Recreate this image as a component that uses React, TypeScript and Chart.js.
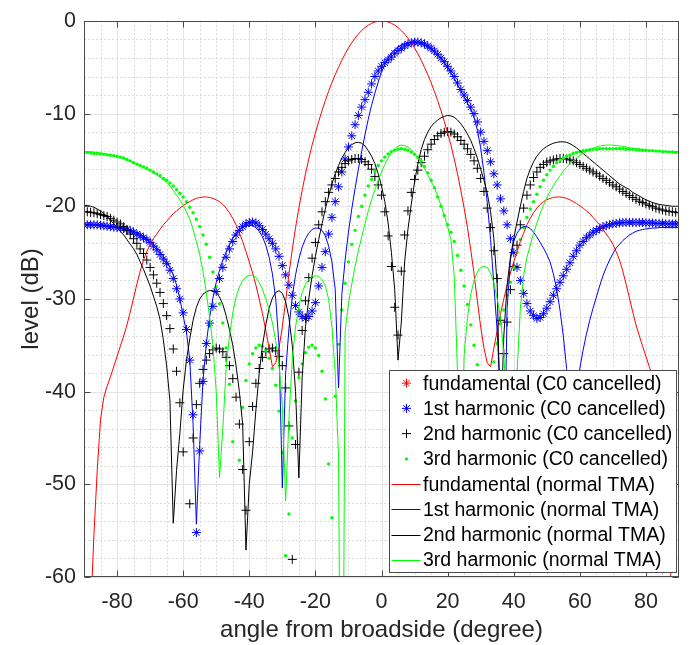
import React, { useEffect, useRef } from 'react';
import { Chart, registerables } from 'chart.js';

Chart.register(...registerables);

const FONT = '"Liberation Sans", Arial, Helvetica, sans-serif';
const TEXT = '#262626';

// angle samples (degree)
const ANGLES = [
  -90, -89, -88, -87, -86, -85, -84, -83, -82, -81,
  -80, -79, -78, -77, -76, -75, -74, -73, -72, -71,
  -70, -69, -68, -67, -66, -65, -64, -63, -62, -61,
  -60, -59, -58, -57, -56, -55, -54, -53, -52, -51,
  -50, -49, -48, -47, -46, -45, -44, -43, -42, -41,
  -40, -39, -38, -37, -36, -35, -34, -33, -32, -31,
  -30, -29, -28, -27, -26, -25, -24, -23, -22, -21,
  -20, -19, -18, -17, -16, -15, -14, -13, -12, -11,
  -10, -9, -8, -7, -6, -5, -4, -3, -2, -1,
  0, 1, 2, 3, 4, 5, 6, 7, 8, 9,
  10, 11, 12, 13, 14, 15, 16, 17, 18, 19,
  20, 21, 22, 23, 24, 25, 26, 27, 28, 29,
  30, 31, 32, 33, 34, 35, 36, 37, 38, 39,
  40, 41, 42, 43, 44, 45, 46, 47, 48, 49,
  50, 51, 52, 53, 54, 55, 56, 57, 58, 59,
  60, 61, 62, 63, 64, 65, 66, 67, 68, 69,
  70, 71, 72, 73, 74, 75, 76, 77, 78, 79,
  80, 81, 82, 83, 84, 85, 86, 87, 88, 89,
  90,
];

// fundamental (C0 cancelled): entirely below the -60 dB floor, nothing visible
const FUND_C0: number[] = [];

// 1st harmonic (C0 cancelled)
const H1_C0 = [
  -22.0, -22.0, -22.0, -22.0, -22.0, -22.05, -22.1, -22.15, -22.2, -22.25,
  -22.3, -22.35, -22.4, -22.5, -22.6, -22.8, -23.0, -23.2, -23.4, -23.6,
  -23.9, -24.3, -24.7, -25.2, -25.7, -26.2, -26.9, -27.8, -28.9, -30.0,
  -31.5, -33.3, -36.6, -42.5, -55.2, -46.4, -38.9, -34.8, -32.6, -30.8,
  -29.2, -27.8, -26.6, -25.5, -24.6, -23.8, -23.1, -22.6, -22.2, -21.9,
  -21.75, -21.7, -21.8, -22.1, -22.5, -23.0, -23.5, -24.0, -24.6, -25.4,
  -26.4, -27.4, -28.5, -29.6, -30.7, -31.4, -31.9, -32.1, -31.9, -31.3,
  -30.4, -28.6, -26.6, -24.9, -23.0, -21.2, -19.5, -17.9, -16.3, -14.9,
  -13.6, -12.4, -11.2, -10.2, -9.3, -8.5, -7.7, -6.8, -6.0, -5.4,
  -4.9, -4.5, -4.2, -3.9, -3.5, -3.2, -2.95, -2.7, -2.5, -2.35,
  -2.3, -2.3, -2.35, -2.5, -2.7, -2.95, -3.25, -3.6, -4.0, -4.4,
  -4.9, -5.4, -6.0, -6.7, -7.4, -8.0, -8.6, -9.3, -10.0, -10.9,
  -12.0, -13.0, -14.0, -15.2, -16.5, -17.7, -19.2, -20.5, -22.0, -23.5,
  -25.0, -26.6, -28.0, -29.4, -30.5, -31.3, -31.8, -32.1, -32.0, -31.6,
  -31.0, -30.3, -29.6, -28.9, -28.2, -27.5, -26.8, -26.1, -25.4, -24.8,
  -24.2, -23.8, -23.4, -23.1, -22.8, -22.6, -22.4, -22.2, -22.1, -22.0,
  -21.9, -21.85, -21.8, -21.75, -21.75, -21.75, -21.75, -21.75, -21.75, -21.75,
  -21.8, -21.8, -21.8, -21.85, -21.85, -21.85, -21.9, -21.9, -21.9, -21.9,
  -21.9,
];

// 2nd harmonic (C0 cancelled)
const H2_C0 = [
  -20.6, -20.6, -20.65, -20.7, -20.8, -20.9, -21.0, -21.1, -21.3, -21.5,
  -21.7, -21.9, -22.2, -22.6, -23.0, -23.5, -24.0, -24.6, -25.1, -25.8,
  -26.6, -27.4, -28.3, -29.3, -30.5, -31.8, -33.2, -35.4, -37.8, -41.2,
  -46.5, -70.0, -52.1, -45.0, -41.4, -39.1, -37.6, -36.6, -35.9, -35.5,
  -35.3, -35.4, -35.7, -36.3, -37.2, -38.6, -40.6, -43.5, -48.4, -52.8,
  -45.4, -41.6, -39.1, -37.5, -36.3, -35.7, -35.4, -35.3, -35.6, -36.2,
  -37.2, -39.6, -43.7, -58.1, -45.7, -37.9, -33.4, -30.2, -27.7, -25.6,
  -23.9, -22.0, -20.6, -19.5, -18.5, -17.7, -17.0, -16.3, -15.8, -15.4,
  -15.1, -14.95, -14.85, -14.85, -14.95, -15.2, -15.5, -16.0, -16.8, -17.7,
  -18.8, -20.6, -23.2, -26.5, -30.9, -33.9, -27.0, -23.1, -20.5, -18.5,
  -17.1, -16.1, -15.3, -14.6, -13.9, -13.3, -12.8, -12.4, -12.15, -12.0,
  -11.95, -12.0, -12.2, -12.5, -12.9, -13.3, -13.8, -14.4, -15.1, -15.9,
  -17.0, -18.4, -20.2, -22.3, -24.8, -27.8, -32.3, -35.9, -32.5, -29.0,
  -26.5, -24.2, -22.0, -20.2, -18.8, -17.7, -16.9, -16.3, -15.8, -15.5,
  -15.25, -15.1, -15.0, -14.9, -14.85, -14.85, -14.9, -15.0, -15.1, -15.3,
  -15.5, -15.7, -15.9, -16.1, -16.3, -16.5, -16.75, -17.0, -17.2, -17.45,
  -17.7, -17.9, -18.15, -18.4, -18.6, -18.85, -19.05, -19.25, -19.45, -19.6,
  -19.75, -19.9, -20.05, -20.2, -20.3, -20.4, -20.5, -20.55, -20.6, -20.65,
  -20.7,
];

// 3rd harmonic (C0 cancelled)
const H3_C0 = [
  -14.2, -14.2, -14.25, -14.3, -14.3, -14.35, -14.4, -14.45, -14.5, -14.55,
  -14.6, -14.7, -14.8, -14.95, -15.1, -15.3, -15.45, -15.6, -15.75, -15.9,
  -16.1, -16.3, -16.5, -16.7, -17.0, -17.2, -17.5, -17.8, -18.2, -18.6,
  -19.0, -19.5, -20.1, -20.7, -21.4, -22.2, -23.1, -24.1, -25.5, -27.1,
  -28.7, -30.5, -32.6, -35.3, -39.2, -45.4, -70.0, -47.4, -41.7, -38.8,
  -37.0, -35.9, -35.3, -35.0, -35.1, -35.6, -36.4, -37.5, -39.3, -42.1,
  -46.6, -57.7, -53.2, -45.0, -41.0, -38.5, -37.0, -35.8, -35.2, -35.0,
  -35.3, -36.1, -37.8, -40.8, -47.8, -53.6, -40.5, -34.9, -31.2, -28.3,
  -26.0, -24.1, -22.6, -21.1, -20.0, -18.8, -17.8, -17.1, -16.2, -15.6,
  -15.1, -14.7, -14.35, -14.1, -13.95, -13.85, -13.8, -13.85, -13.95, -14.15,
  -14.4, -14.7, -15.1, -15.7, -16.4, -17.2, -18.0, -19.0, -20.0, -21.0,
  -22.0, -22.8, -23.8, -25.3, -26.9, -28.6, -30.6, -32.8, -35.0, -37.1,
  -39.5, -43.0, -42.0, -39.0, -36.8, -34.8, -32.7, -31.2, -29.6, -28.2,
  -26.6, -25.0, -23.6, -22.3, -21.2, -20.3, -19.5, -18.7, -17.9, -17.2,
  -16.6, -16.1, -15.7, -15.3, -15.0, -14.8, -14.6, -14.45, -14.3, -14.2,
  -14.1, -14.0, -13.95, -13.9, -13.85, -13.85, -13.8, -13.8, -13.8, -13.8,
  -13.8, -13.8, -13.8, -13.8, -13.85, -13.85, -13.85, -13.9, -13.9, -13.95,
  -13.95, -14.0, -14.0, -14.05, -14.05, -14.1, -14.1, -14.15, -14.15, -14.2,
  -14.2,
];

// fundamental (normal TMA)
const FUND_TMA = [
  -90.0, -75.0, -64.0, -55.5, -48.5, -43.0, -40.6, -39.4, -38.4, -37.3,
  -36.2, -35.1, -34.0, -32.8, -31.4, -29.9, -28.4, -27.0, -25.8, -24.9,
  -24.1, -23.5, -23.0, -22.5, -22.0, -21.6, -21.2, -20.8, -20.5, -20.2,
  -19.95, -19.7, -19.5, -19.3, -19.15, -19.05, -19.0, -19.0, -19.05, -19.15,
  -19.3, -19.5, -19.8, -20.2, -20.7, -21.3, -22.0, -22.9, -23.8, -24.9,
  -26.0, -27.2, -28.5, -30.0, -31.6, -33.4, -35.3, -37.3, -36.9, -35.3,
  -33.0, -30.2, -27.3, -24.7, -22.3, -20.2, -18.3, -16.5, -14.9, -13.4,
  -12.1, -10.85, -9.7, -8.6, -7.6, -6.65, -5.8, -5.0, -4.25, -3.55,
  -2.92, -2.36, -1.86, -1.42, -1.04, -0.72, -0.46, -0.26, -0.12, -0.03,
  0.0, -0.03, -0.12, -0.26, -0.46, -0.72, -1.04, -1.42, -1.86, -2.36,
  -2.92, -3.55, -4.25, -5.0, -5.8, -6.65, -7.6, -8.6, -9.7, -10.85,
  -12.1, -13.4, -14.9, -16.5, -18.3, -20.2, -22.3, -24.7, -27.3, -30.2,
  -33.0, -35.3, -36.9, -37.3, -35.3, -33.4, -31.6, -30.0, -28.5, -27.2,
  -26.0, -24.9, -23.8, -22.9, -22.0, -21.3, -20.7, -20.2, -19.8, -19.5,
  -19.3, -19.15, -19.05, -19.0, -19.0, -19.05, -19.15, -19.3, -19.5, -19.7,
  -19.95, -20.2, -20.5, -20.8, -21.2, -21.6, -22.0, -22.5, -23.0, -23.5,
  -24.1, -24.9, -25.8, -27.0, -28.4, -29.9, -31.4, -32.8, -34.0, -35.1,
  -36.2, -37.3, -38.4, -39.4, -40.6, -43.0, -48.5, -55.5, -64.0, -75.0,
  -90.0,
];

// 1st harmonic (normal TMA)
const H1_TMA = [
  -22.0, -22.0, -22.0, -22.05, -22.05, -22.1, -22.1, -22.15, -22.2, -22.25,
  -22.3, -22.35, -22.4, -22.5, -22.6, -22.7, -22.85, -23.0, -23.2, -23.5,
  -23.8, -24.1, -24.5, -24.9, -25.4, -25.9, -26.6, -27.4, -28.5, -30.0,
  -31.8, -33.6, -36.6, -43.5, -54.3, -45.7, -38.8, -34.8, -32.0, -29.9,
  -28.2, -26.9, -25.8, -24.9, -24.1, -23.4, -22.9, -22.5, -22.25, -22.1,
  -22.05, -22.1, -22.3, -22.7, -23.3, -24.2, -25.5, -27.3, -30.0, -35.0,
  -50.4, -38.0, -33.2, -29.8, -27.4, -25.7, -24.4, -23.5, -22.9, -22.5,
  -22.35, -22.35, -22.6, -23.2, -24.3, -26.0, -29.0, -39.6, -29.5, -25.8,
  -22.8, -20.3, -18.1, -16.0, -14.1, -12.3, -10.6, -9.1, -7.8, -6.6,
  -5.5, -4.7, -4.0, -3.5, -3.1, -2.8, -2.6, -2.45, -2.35, -2.3,
  -2.3, -2.35, -2.45, -2.6, -2.8, -3.05, -3.35, -3.7, -4.1, -4.55,
  -5.05, -5.6, -6.2, -6.85, -7.5, -8.2, -8.9, -9.5, -10.4, -11.8,
  -13.7, -16.4, -19.6, -23.6, -28.5, -33.5, -40.5, -52.0, -31.0, -25.8,
  -23.8, -22.9, -22.4, -22.2, -22.2, -22.4, -22.8, -23.3, -23.9, -24.5,
  -25.2, -26.0, -27.3, -29.0, -31.2, -34.0, -37.5, -43.0, -55.0, -43.0,
  -37.5, -35.5, -33.8, -32.3, -31.0, -29.8, -28.6, -27.5, -26.6, -25.8,
  -25.1, -24.5, -24.1, -23.7, -23.4, -23.1, -22.9, -22.7, -22.6, -22.5,
  -22.45, -22.4, -22.35, -22.35, -22.3, -22.3, -22.3, -22.3, -22.3, -22.3,
  -22.3,
];

// 2nd harmonic (normal TMA)
const H2_TMA = [
  -19.9, -19.9, -20.0, -20.1, -20.3, -20.5, -20.8, -21.1, -21.5, -21.9,
  -22.3, -22.7, -23.1, -23.6, -24.1, -24.6, -25.2, -26.0, -26.8, -27.7,
  -28.6, -29.7, -30.8, -32.2, -34.4, -37.2, -41.0, -54.2, -48.5, -44.5,
  -39.8, -36.6, -34.3, -32.3, -30.9, -30.0, -29.5, -29.2, -29.1, -29.1,
  -29.3, -29.8, -30.6, -31.8, -33.3, -35.0, -37.2, -40.0, -43.5, -57.1,
  -50.0, -46.5, -42.0, -38.0, -35.0, -32.8, -31.0, -29.9, -29.3, -29.1,
  -29.4, -30.3, -32.0, -35.0, -40.0, -49.3, -38.5, -33.0, -30.0, -27.5,
  -25.4, -23.6, -21.9, -20.3, -18.9, -17.6, -16.5, -15.6, -14.8, -14.2,
  -13.7, -13.35, -13.15, -13.1, -13.2, -13.5, -14.0, -14.6, -15.4, -16.5,
  -17.8, -19.5, -21.8, -25.0, -29.0, -36.6, -32.5, -26.0, -22.5, -19.8,
  -17.4, -15.4, -13.9, -12.8, -12.0, -11.4, -11.0, -10.7, -10.45, -10.3,
  -10.2, -10.25, -10.4, -10.7, -11.1, -11.6, -12.2, -12.9, -13.8, -14.8,
  -16.0, -17.2, -18.6, -20.6, -23.5, -28.5, -45.0, -34.0, -28.5, -25.5,
  -23.5, -21.7, -20.0, -18.4, -17.0, -16.0, -15.2, -14.6, -14.15, -13.8,
  -13.55, -13.35, -13.2, -13.1, -13.05, -13.05, -13.1, -13.25, -13.45, -13.7,
  -14.0, -14.3, -14.6, -14.9, -15.2, -15.5, -15.8, -16.1, -16.4, -16.7,
  -17.0, -17.3, -17.6, -17.8, -18.0, -18.2, -18.5, -18.7, -18.9, -19.1,
  -19.3, -19.45, -19.6, -19.7, -19.8, -19.85, -19.9, -19.95, -20.0, -20.0,
  -20.0,
];

// 3rd harmonic (normal TMA)
const H3_TMA = [
  -14.1, -14.1, -14.12, -14.15, -14.2, -14.25, -14.3, -14.38, -14.46, -14.55,
  -14.65, -14.76, -14.88, -15.0, -15.15, -15.3, -15.45, -15.6, -15.8, -16.0,
  -16.2, -16.4, -16.6, -16.85, -17.1, -17.4, -17.8, -18.3, -18.8, -19.3,
  -19.9, -20.6, -21.4, -22.5, -23.8, -25.2, -27.0, -29.3, -32.0, -35.0,
  -40.0, -49.3, -44.0, -37.5, -34.0, -31.5, -29.8, -28.7, -28.0, -27.6,
  -27.45, -27.45, -27.7, -28.2, -29.0, -30.0, -31.1, -32.6, -34.5, -37.2,
  -41.5, -51.8, -43.0, -36.5, -33.0, -30.8, -29.3, -28.4, -27.9, -27.6,
  -27.5, -27.55, -27.9, -28.6, -30.0, -33.0, -38.0, -47.0, -100.0, -33.5,
  -30.5, -28.4, -26.5, -24.8, -23.3, -21.9, -20.5, -19.3, -18.2, -17.2,
  -16.3, -15.5, -14.8, -14.2, -13.8, -13.5, -13.4, -13.45, -13.6, -13.9,
  -14.3, -14.8, -15.3, -15.9, -16.6, -17.3, -18.0, -18.9, -19.9, -21.0,
  -22.2, -23.6, -27.5, -38.0, -50.0, -36.0, -32.0, -29.5, -28.0, -27.1,
  -26.6, -26.5, -26.6, -27.2, -28.3, -30.0, -32.0, -36.0, -42.0, -55.0,
  -48.0, -38.0, -31.0, -27.5, -25.5, -24.2, -22.9, -21.8, -20.8, -19.9,
  -19.1, -18.4, -17.8, -17.2, -16.7, -16.2, -15.8, -15.4, -15.1, -14.8,
  -14.5, -14.3, -14.1, -13.9, -13.75, -13.6, -13.5, -13.45, -13.4, -13.4,
  -13.4, -13.45, -13.5, -13.55, -13.6, -13.7, -13.75, -13.8, -13.85, -13.9,
  -13.95, -14.0, -14.0, -14.05, -14.05, -14.1, -14.1, -14.1, -14.1, -14.1,
  -14.1,
];

const X_TICKS = [-80, -60, -40, -20, 0, 20, 40, 60, 80];
const Y_TICKS = [0, -10, -20, -30, -40, -50, -60];

const LEGEND = [
  { label: 'fundamental (C0 cancelled)', color: '#ff0000', kind: 'star' },
  { label: '1st harmonic (C0 cancelled)', color: '#0000ff', kind: 'star' },
  { label: '2nd harmonic (C0 cancelled)', color: '#000000', kind: 'cross' },
  { label: '3rd harmonic (C0 cancelled)', color: '#00ff00', kind: 'dot' },
  { label: 'fundamental (normal TMA)', color: '#ff0000', kind: 'line' },
  { label: '1st harmonic (normal TMA)', color: '#0000ff', kind: 'line' },
  { label: '2nd harmonic (normal TMA)', color: '#000000', kind: 'line' },
  { label: '3rd harmonic (normal TMA)', color: '#00ff00', kind: 'line' },
];

const pts = (ys: number[]) => ys.map((y, i) => ({ x: ANGLES[i], y }));

function drawMarker(ctx: CanvasRenderingContext2D, kind: string, color: string, x: number, y: number) {
  ctx.save();
  ctx.strokeStyle = color;
  ctx.fillStyle = color;
  ctx.lineWidth = 1;
  if (kind === 'dot') {
    ctx.beginPath();
    ctx.arc(x, y, 1.7, 0, Math.PI * 2);
    ctx.fill();
  } else {
    const r = kind === 'star' ? 4.5 : 4.5;
    ctx.beginPath();
    ctx.moveTo(x - r, y); ctx.lineTo(x + r, y);
    ctx.moveTo(x, y - r); ctx.lineTo(x, y + r);
    if (kind === 'star') {
      const d = r * Math.SQRT1_2;
      ctx.moveTo(x - d, y - d); ctx.lineTo(x + d, y + d);
      ctx.moveTo(x - d, y + d); ctx.lineTo(x + d, y - d);
    }
    ctx.stroke();
  }
  ctx.restore();
}

const framePlugin = {
  id: 'matlabFrame',
  beforeDatasetsDraw(chart: any) {
    const { ctx, chartArea: a, scales } = chart;
    const xs = scales.x, ys = scales.y;
    ctx.save();
    ctx.lineWidth = 1;
    // minor grid (dotted)
    ctx.strokeStyle = '#dadada';
    ctx.setLineDash([2, 2]);
    ctx.beginPath();
    for (let v = -85; v < 90; v += 5) {
      if (v % 20 === 0) continue;
      const px = Math.round(xs.getPixelForValue(v)) + 0.5;
      ctx.moveTo(px, a.top); ctx.lineTo(px, a.bottom);
    }
    for (let v = -58; v < 0; v += 2) {
      if (v % 10 === 0) continue;
      const py = Math.round(ys.getPixelForValue(v)) + 0.5;
      ctx.moveTo(a.left, py); ctx.lineTo(a.right, py);
    }
    ctx.stroke();
    // major grid (solid)
    ctx.setLineDash([]);
    ctx.strokeStyle = '#e4e4e4';
    ctx.beginPath();
    X_TICKS.forEach((v) => {
      const px = Math.round(xs.getPixelForValue(v)) + 0.5;
      ctx.moveTo(px, a.top); ctx.lineTo(px, a.bottom);
    });
    Y_TICKS.forEach((v) => {
      const py = Math.round(ys.getPixelForValue(v)) + 0.5;
      ctx.moveTo(a.left, py); ctx.lineTo(a.right, py);
    });
    ctx.stroke();
    ctx.restore();
  },
  afterDatasetsDraw(chart: any) {
    const { ctx, chartArea: a, scales } = chart;
    const xs = scales.x, ys = scales.y;
    const L = Math.round(a.left) + 0.5, R = Math.round(a.right) - 0.5;
    const T = Math.round(a.top) + 0.5, B = Math.round(a.bottom) - 0.5;
    ctx.save();
    ctx.strokeStyle = '#4a4a4a';
    ctx.lineWidth = 1;
    ctx.strokeRect(L, T, R - L, B - T);
    const tl = 6;
    ctx.beginPath();
    X_TICKS.forEach((v) => {
      const px = Math.round(xs.getPixelForValue(v)) + 0.5;
      ctx.moveTo(px, B); ctx.lineTo(px, B - tl);
      ctx.moveTo(px, T); ctx.lineTo(px, T + tl);
    });
    Y_TICKS.forEach((v) => {
      const py = Math.round(ys.getPixelForValue(v)) + 0.5;
      ctx.moveTo(L, py); ctx.lineTo(L + tl, py);
      ctx.moveTo(R, py); ctx.lineTo(R - tl, py);
    });
    ctx.stroke();
    ctx.restore();
  },
  afterDraw(chart: any) {
    const { ctx, chartArea: a } = chart;
    const w = 287, h = 202;
    const bx = Math.round(a.right) - 3 - w + 0.5;
    const by = Math.round(a.bottom) - 5 - h + 0.5;
    ctx.save();
    ctx.fillStyle = '#ffffff';
    ctx.fillRect(bx, by, w, h);
    ctx.strokeStyle = '#4a4a4a';
    ctx.lineWidth = 1;
    ctx.strokeRect(bx, by, w, h);
    const rowH = h / LEGEND.length;
    ctx.font = `19.5px ${FONT}`;
    ctx.textBaseline = 'middle';
    ctx.textAlign = 'left';
    LEGEND.forEach((e, i) => {
      const cy = by + rowH * (i + 0.5);
      if (e.kind === 'line') {
        ctx.strokeStyle = e.color;
        ctx.lineWidth = 1;
        ctx.beginPath();
        ctx.moveTo(bx + 2, Math.round(cy) + 0.5);
        ctx.lineTo(bx + 31, Math.round(cy) + 0.5);
        ctx.stroke();
      } else {
        drawMarker(ctx, e.kind, e.color, bx + 17, cy);
      }
      ctx.fillStyle = '#000000';
      ctx.fillText(e.label, bx + 33.5, cy + 1);
    });
    ctx.restore();
  },
};

export default function App() {
  const ref = useRef<HTMLCanvasElement>(null);
  useEffect(() => {
    if (!ref.current) return;
    const markerDs = (label: string, data: number[], color: string, style: string, radius: number, order: number) => ({
      label,
      data: pts(data),
      showLine: false,
      borderColor: color,
      backgroundColor: color,
      pointStyle: style,
      pointRadius: radius,
      pointBorderWidth: style === 'circle' ? 0 : 1,
      pointBorderColor: color,
      pointBackgroundColor: color,
      order,
    });
    const lineDs = (label: string, data: number[], color: string, order: number) => ({
      label,
      data: pts(data),
      showLine: true,
      borderColor: color,
      backgroundColor: color,
      borderWidth: 1,
      pointRadius: 0,
      tension: 0,
      order,
    });
    const chart = new Chart(ref.current, {
      type: 'line',
      data: {
        datasets: [
          markerDs('fundamental (C0 cancelled)', FUND_C0, '#ff0000', 'star', 4.5, 8),
          markerDs('1st harmonic (C0 cancelled)', H1_C0, '#0000ff', 'star', 4.5, 7),
          markerDs('2nd harmonic (C0 cancelled)', H2_C0, '#000000', 'cross', 4.5, 6),
          markerDs('3rd harmonic (C0 cancelled)', H3_C0, '#00ff00', 'circle', 1.7, 5),
          lineDs('fundamental (normal TMA)', FUND_TMA, '#ff0000', 4),
          lineDs('1st harmonic (normal TMA)', H1_TMA, '#0000ff', 3),
          lineDs('2nd harmonic (normal TMA)', H2_TMA, '#000000', 2),
          lineDs('3rd harmonic (normal TMA)', H3_TMA, '#00ff00', 1),
        ] as any,
      },
      options: {
        animation: false,
        responsive: false,
        events: [],
        layout: { padding: { left: 0, right: 20, top: 12, bottom: 0 } },
        plugins: { legend: { display: false }, tooltip: { enabled: false } },
        scales: {
          x: {
            type: 'linear',
            min: -90,
            max: 90,
            afterBuildTicks: (s: any) => { s.ticks = X_TICKS.map((v) => ({ value: v })); },
            afterFit: (s: any) => { s.height = 68; },
            grid: { display: false, drawTicks: false },
            border: { display: false },
            ticks: { font: { family: FONT, size: 21.5 }, color: TEXT, padding: 12, maxRotation: 0, autoSkip: false },
            title: { display: true, text: 'angle from broadside (degree)', font: { family: FONT, size: 24 }, color: TEXT, padding: { top: 0, bottom: 0 } },
          },
          y: {
            type: 'linear',
            min: -60,
            max: 0,
            afterBuildTicks: (s: any) => { s.ticks = Y_TICKS.map((v) => ({ value: v })); },
            afterFit: (s: any) => { s.width = 84; },
            grid: { display: false, drawTicks: false },
            border: { display: false },
            ticks: { font: { family: FONT, size: 21.5 }, color: TEXT, padding: 8, autoSkip: false },
            title: { display: true, text: 'level (dB)', font: { family: FONT, size: 24 }, color: TEXT, padding: { top: 17, bottom: 0 } },
          },
        },
      } as any,
      plugins: [framePlugin],
    });
    return () => chart.destroy();
  }, []);
  return (
    <div style={{ position: 'fixed', left: 0, top: 0, width: 699, height: 645, background: '#ffffff' }}>
      <canvas ref={ref} width={699} height={645} style={{ display: 'block' }} />
    </div>
  );
}
